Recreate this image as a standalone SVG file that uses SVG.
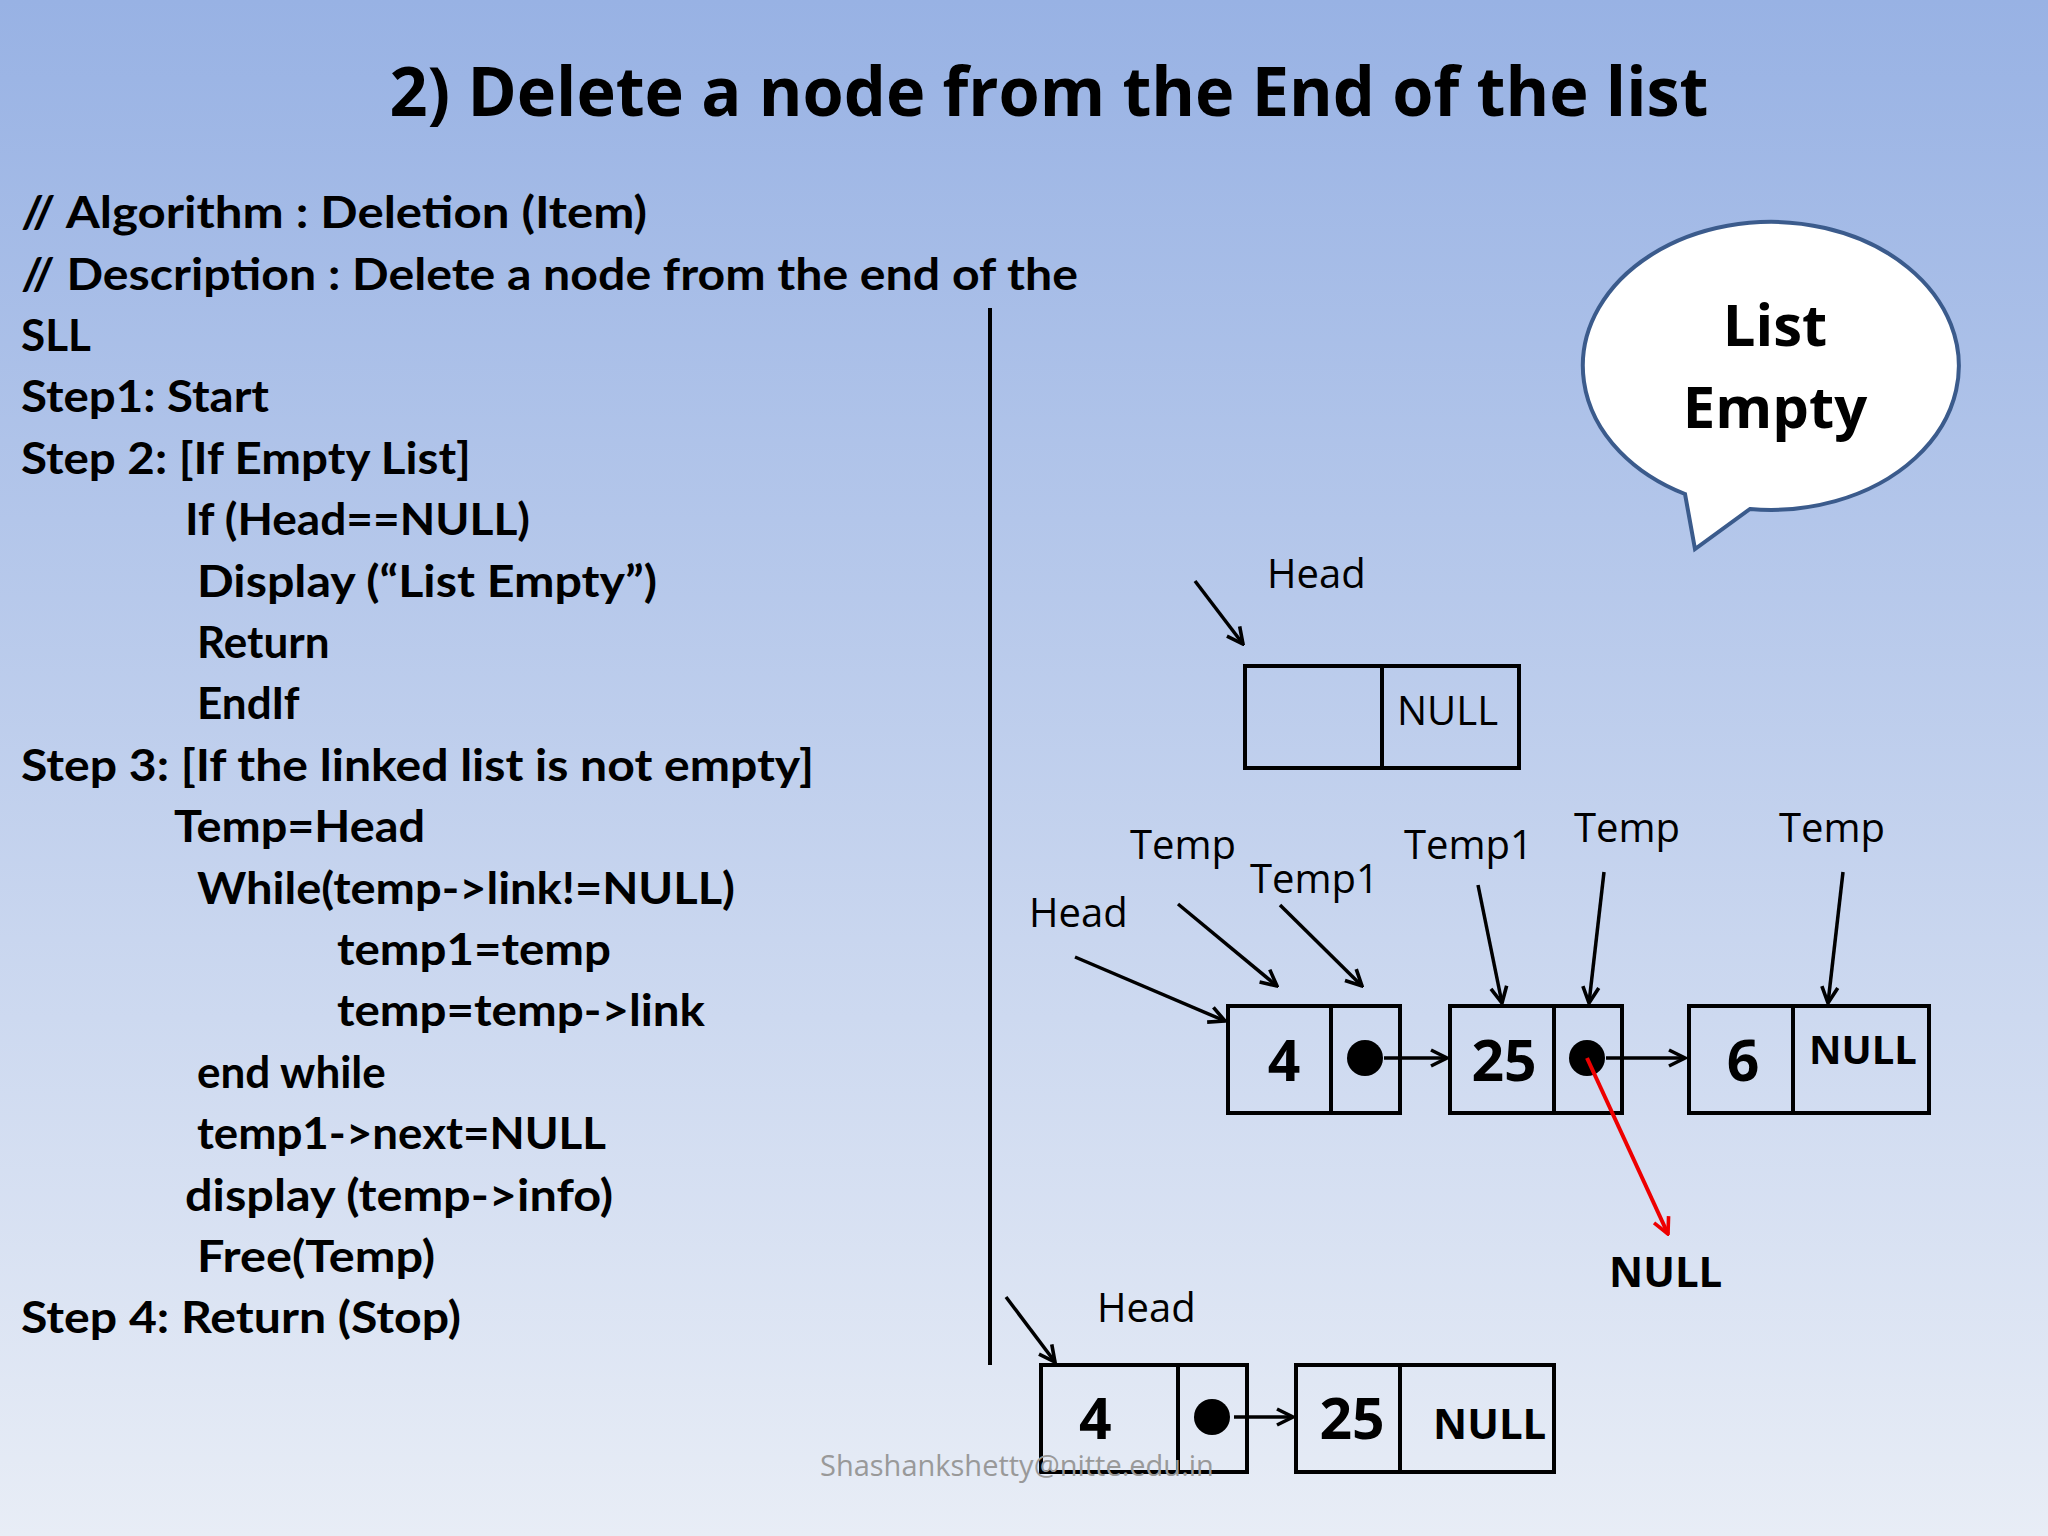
<svg xmlns="http://www.w3.org/2000/svg" width="2048" height="1536" viewBox="0 0 2048 1536">
<defs>
<linearGradient id="bg" x1="0" y1="0" x2="0" y2="1"><stop offset="0" stop-color="#98b2e4"/><stop offset="1" stop-color="#e8edf6"/></linearGradient>
<marker id="ah" viewBox="0 0 10 10" refX="9" refY="5" markerWidth="20" markerHeight="20" markerUnits="userSpaceOnUse" orient="auto"><path d="M1,1 L9,5 L1,9" fill="none" stroke="#000" stroke-width="1.8"/></marker>
<marker id="ar" viewBox="0 0 10 10" refX="9" refY="5" markerWidth="20" markerHeight="20" markerUnits="userSpaceOnUse" orient="auto"><path d="M1,1 L9,5 L1,9" fill="none" stroke="#e00" stroke-width="1.8"/></marker>
<style>
.c{font-family:Lato,"Open Sans",sans-serif;font-weight:bold;font-size:44px;fill:#000}
.l{font-family:"Open Sans",sans-serif;font-size:40px;fill:#000}
.b{fill:none;stroke:#000;stroke-width:4}
.a{stroke:#000;stroke-width:3.5;fill:none;marker-end:url(#ah)}
.n{font-family:"Open Sans",sans-serif;font-weight:bold;font-size:57px}
.nl{font-family:"Open Sans",sans-serif;font-size:40px}
</style>
</defs>
<rect width="2048" height="1536" fill="url(#bg)"/>
<text x="1049" y="116" text-anchor="middle" font-family="Open Sans,sans-serif" font-weight="bold" font-size="68" textLength="1319" lengthAdjust="spacingAndGlyphs">2) Delete a node from the End of the list</text>
<g id="algorithm" class="c">
<text x="21" y="228" textLength="626" lengthAdjust="spacingAndGlyphs">// Algorithm : Deletion (Item)</text>
<text x="21" y="290" textLength="1057" lengthAdjust="spacingAndGlyphs">// Description : Delete a node from the end of the</text>
<text x="21" y="351">SLL</text>
<text x="21" y="412" textLength="248" lengthAdjust="spacingAndGlyphs">Step1: Start</text>
<text x="21" y="474" textLength="450" lengthAdjust="spacingAndGlyphs">Step 2: [If Empty List]</text>
<text x="185" y="535" textLength="345" lengthAdjust="spacingAndGlyphs">If (Head==NULL)</text>
<text x="197" y="597" textLength="460" lengthAdjust="spacingAndGlyphs">Display (“List Empty”)</text>
<text x="197" y="658">Return</text>
<text x="197" y="719">EndIf</text>
<text x="21" y="781" textLength="793" lengthAdjust="spacingAndGlyphs">Step 3: [If the linked list is not empty]</text>
<text x="174" y="842" textLength="251" lengthAdjust="spacingAndGlyphs">Temp=Head</text>
<text x="197" y="904" textLength="538" lengthAdjust="spacingAndGlyphs">While(temp->link!=NULL)</text>
<text x="337" y="965" textLength="274" lengthAdjust="spacingAndGlyphs">temp1=temp</text>
<text x="337" y="1026" textLength="368" lengthAdjust="spacingAndGlyphs">temp=temp->link</text>
<text x="197" y="1088">end while</text>
<text x="197" y="1149" textLength="409" lengthAdjust="spacingAndGlyphs">temp1->next=NULL</text>
<text x="185" y="1211" textLength="428" lengthAdjust="spacingAndGlyphs">display (temp->info)</text>
<text x="197" y="1272" textLength="238" lengthAdjust="spacingAndGlyphs">Free(Temp)</text>
<text x="21" y="1333" textLength="440" lengthAdjust="spacingAndGlyphs">Step 4: Return (Stop)</text>
</g>
<line x1="990" y1="308" x2="990" y2="1365" stroke="#000" stroke-width="4"/>
<g id="bubble">
<path d="M1685,494 A188,144 0 1 1 1750,509 L1695,549 Z" fill="#fff" stroke="#3b5b8c" stroke-width="4"/>
<text x="1775" y="346" text-anchor="middle" font-family="Open Sans,sans-serif" font-weight="bold" font-size="58">List</text>
<text x="1775" y="428" text-anchor="middle" font-family="Open Sans,sans-serif" font-weight="bold" font-size="58">Empty</text>
</g>
<g id="empty-list">
<rect class="b" x="1245" y="666" width="274" height="102"/>
<line class="b" x1="1382" y1="666" x2="1382" y2="768"/>
<text class="nl" x="1397" y="725">NULL</text>
<text class="l" x="1267" y="588">Head</text>
</g>
<g id="mid-list">
<rect class="b" x="1228" y="1006" width="172" height="107"/><line class="b" x1="1331" y1="1006" x2="1331" y2="1113"/>
<rect class="b" x="1450" y="1006" width="172" height="107"/><line class="b" x1="1554" y1="1006" x2="1554" y2="1113"/>
<rect class="b" x="1689" y="1006" width="240" height="107"/><line class="b" x1="1793" y1="1006" x2="1793" y2="1113"/>
<text class="n" x="1284" y="1081" text-anchor="middle">4</text>
<text class="n" x="1504" y="1081" text-anchor="middle">25</text>
<text class="n" x="1743" y="1081" text-anchor="middle">6</text>
<text x="1809" y="1064" font-family="Open Sans,sans-serif" font-weight="bold" font-size="40">NULL</text>
<circle cx="1365" cy="1058" r="18"/><circle cx="1587" cy="1058" r="18"/>
<text class="l" x="1130" y="859">Temp</text>
<text class="l" x="1250" y="893">Temp1</text>
<text class="l" x="1029" y="927">Head</text>
<text class="l" x="1404" y="859">Temp1</text>
<text class="l" x="1574" y="842">Temp</text>
<text class="l" x="1779" y="842">Temp</text>
<text x="1609" y="1287" font-family="Open Sans,sans-serif" font-weight="bold" font-size="42">NULL</text>
</g>
<g id="bottom-list">
<rect class="b" x="1041" y="1365" width="206" height="107"/><line class="b" x1="1178" y1="1365" x2="1178" y2="1472"/>
<rect class="b" x="1296" y="1365" width="258" height="107"/><line class="b" x1="1400" y1="1365" x2="1400" y2="1472"/>
<text class="n" x="1079" y="1439">4</text>
<text class="n" x="1352" y="1439" text-anchor="middle">25</text>
<text x="1433" y="1439" font-family="Open Sans,sans-serif" font-weight="bold" font-size="42">NULL</text>
<circle cx="1212" cy="1417" r="18"/>
<text class="l" x="1097" y="1322">Head</text>
</g>
<g id="connectors">
<line class="a" x1="1195" y1="581" x2="1243" y2="644"/>
<line class="a" x1="1384" y1="1058" x2="1447" y2="1058"/>
<line class="a" x1="1606" y1="1058" x2="1685" y2="1058"/>
<line x1="1587" y1="1058" x2="1668" y2="1234" stroke="#e00" stroke-width="4" marker-end="url(#ar)"/>
<line class="a" x1="1075" y1="957" x2="1225" y2="1021"/>
<line class="a" x1="1178" y1="904" x2="1277" y2="986"/>
<line class="a" x1="1280" y1="905" x2="1362" y2="986"/>
<line class="a" x1="1478" y1="885" x2="1502" y2="1003"/>
<line class="a" x1="1604" y1="872" x2="1589" y2="1003"/>
<line class="a" x1="1843" y1="872" x2="1828" y2="1003"/>
<line class="a" x1="1234" y1="1417" x2="1293" y2="1417"/>
<line class="a" x1="1006" y1="1297" x2="1055" y2="1362"/>
</g>
<text x="820" y="1476" font-family="Open Sans,sans-serif" font-size="29" fill="#999">Shashankshetty@nitte.edu.in</text>
</svg>
